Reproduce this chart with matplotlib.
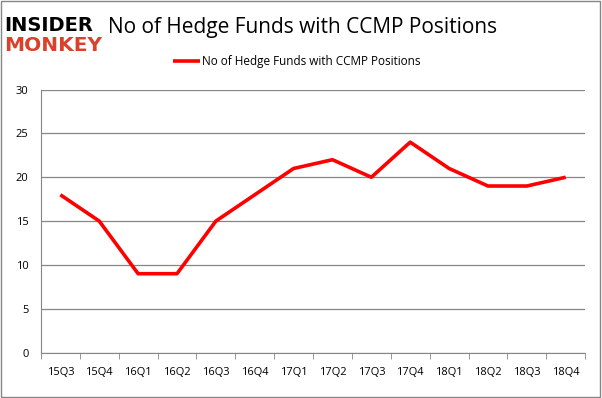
import matplotlib
matplotlib.use("Agg")
import matplotlib.pyplot as plt
from matplotlib.patches import Rectangle

quarters = ["15Q3", "15Q4", "16Q1", "16Q2", "16Q3", "16Q4", "17Q1",
            "17Q2", "17Q3", "17Q4", "18Q1", "18Q2", "18Q3", "18Q4"]
funds = [18, 15, 9, 9, 15, 18, 21, 22, 20, 24, 21, 19, 19, 20]
yticks = [0, 5, 10, 15, 20, 25, 30]

plt.rcParams['font.family'] = ['Open Sans', 'DejaVu Sans']

fig = plt.figure(figsize=(6.02, 3.98), dpi=100)
ax = fig.add_axes([0.068, 0.114, 0.904, 0.661])

x = list(range(len(quarters)))
ax.plot(x, funds, color='#ff0000', lw=2.6, solid_capstyle='butt',
        label='No of Hedge Funds with CCMP Positions')

ax.set_xlim(-0.5, len(quarters) - 0.5)
ax.set_ylim(0, 30)
ax.set_yticks(yticks)
ax.set_xticks(x)
ax.set_xticklabels(quarters)
ax.tick_params(axis='both', labelsize=8, colors='#868686', labelcolor='black')
ax.tick_params(axis='y', length=0, pad=9)
ax.tick_params(axis='x', length=0, pad=10)
# minor ticks at category boundaries
ax.set_xticks([i - 0.5 for i in range(len(quarters) + 1)], minor=True)
ax.tick_params(axis='x', which='minor', length=4, color='#868686', direction='out')
ax.grid(axis='y', color='#868686', lw=0.9)
for s in ['top', 'right']:
    ax.spines[s].set_visible(False)
for s in ['left', 'bottom']:
    ax.spines[s].set_color('#868686')

fig.text(0.503, 0.932, 'No of Hedge Funds with CCMP Positions', fontsize=15,
         ha='center', va='center')
ax.legend(loc='center', bbox_to_anchor=(0.47, 1.105), frameon=False,
          fontsize=8.5, handlelength=2.3, handletextpad=0.2)

# logo
fig.text(0.007, 0.922, 'INSIDER', fontsize=14, fontweight='black',
         color='black', family='DejaVu Sans', va='baseline')
fig.text(0.007, 0.872, 'MONKEY', fontsize=14.5, fontweight='black',
         color='#d9412b', family='DejaVu Sans', va='baseline')

fig.patches.append(Rectangle((0.002, 0.003), 0.995, 0.994, transform=fig.transFigure,
                             fill=False, edgecolor='#868686', lw=1))

fig.savefig('out.png', dpi=100)
